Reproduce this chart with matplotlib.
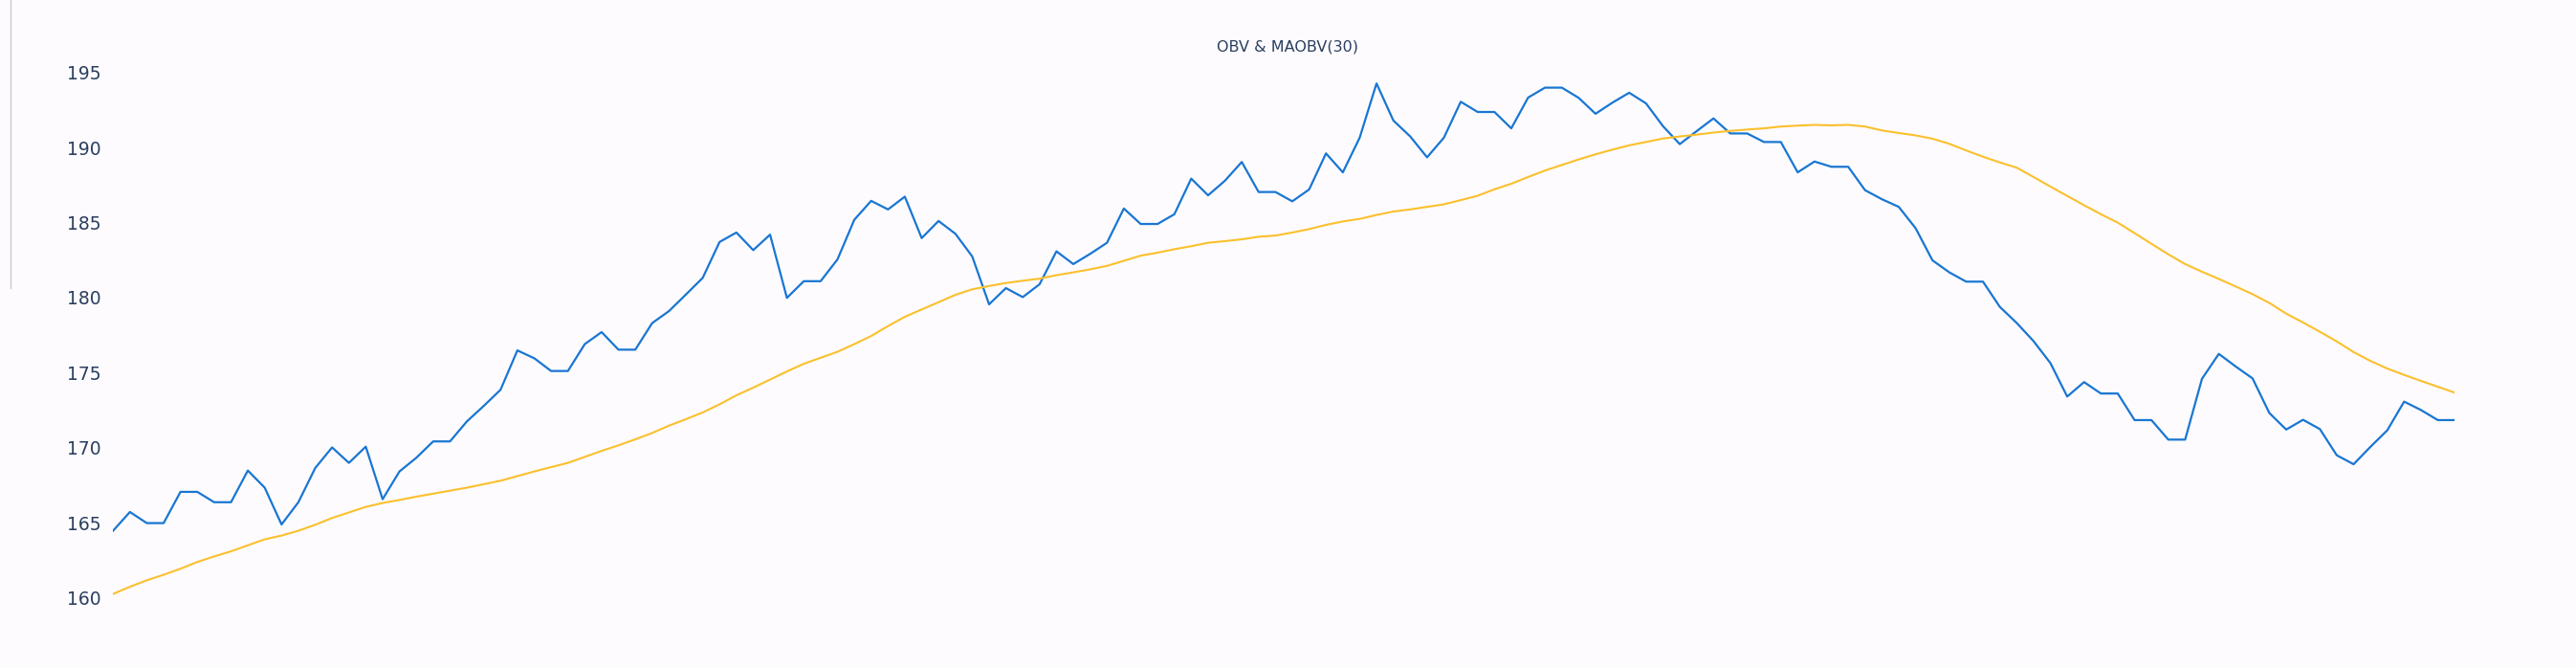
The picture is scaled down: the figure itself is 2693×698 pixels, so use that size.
import numpy as np
import matplotlib
matplotlib.use("Agg")
import matplotlib.pyplot as plt
from matplotlib.lines import Line2D

title = "OBV & MAOBV(30)"

obv = [164.47, 165.72, 164.98, 164.98, 167.06, 167.06, 166.37, 166.37, 168.48, 167.34,
       164.89, 166.37, 168.65, 170.02, 168.99, 170.07, 166.57, 168.42, 169.33, 170.42,
       170.42, 171.75, 172.78, 173.86, 176.48, 175.96, 175.11, 175.11, 176.90, 177.70,
       176.53, 176.53, 178.30, 179.10, 180.20, 181.31, 183.70, 184.33, 183.16, 184.19,
       179.98, 181.09, 181.09, 182.54, 185.18, 186.44, 185.87, 186.72, 183.96, 185.10,
       184.25, 182.74, 179.55, 180.63, 180.03, 180.89, 183.08, 182.23, 182.91, 183.65,
       185.93, 184.90, 184.90, 185.55, 187.92, 186.81, 187.78, 189.03, 187.03, 187.03,
       186.41, 187.20, 189.60, 188.34, 190.65, 194.26, 191.79, 190.73, 189.34, 190.65,
       193.04, 192.36, 192.36, 191.27, 193.32, 193.98, 193.98, 193.30, 192.24, 192.98,
       193.64, 192.93, 191.42, 190.22, 191.08, 191.93, 190.93, 190.93, 190.36, 190.36,
       188.34, 189.06, 188.71, 188.71, 187.15, 186.55, 186.04, 184.62, 182.48, 181.68,
       181.06, 181.06, 179.38, 178.31, 177.10, 175.64, 173.41, 174.37, 173.61, 173.61,
       171.84, 171.84, 170.54, 170.54, 174.59, 176.25, 175.41, 174.62, 172.31, 171.21,
       171.86, 171.24, 169.50, 168.90, 170.06, 171.16, 173.07, 172.51, 171.84, 171.84]

maobv = [160.26, 160.74, 161.17, 161.54, 161.94, 162.39, 162.76, 163.10, 163.50, 163.90,
         164.15, 164.47, 164.87, 165.32, 165.69, 166.06, 166.32, 166.52, 166.74, 166.94,
         167.14, 167.34, 167.57, 167.80, 168.11, 168.42, 168.71, 168.99, 169.39, 169.79,
         170.16, 170.56, 170.98, 171.47, 171.90, 172.35, 172.89, 173.49, 174.00, 174.54,
         175.08, 175.59, 175.99, 176.39, 176.90, 177.44, 178.10, 178.72, 179.21, 179.69,
         180.18, 180.55, 180.77, 180.97, 181.12, 181.26, 181.49, 181.68, 181.88, 182.11,
         182.45, 182.79, 182.99, 183.22, 183.42, 183.65, 183.76, 183.88, 184.05, 184.13,
         184.33, 184.56, 184.84, 185.07, 185.24, 185.50, 185.73, 185.87, 186.04, 186.21,
         186.49, 186.78, 187.21, 187.58, 188.03, 188.46, 188.83, 189.20, 189.54, 189.85,
         190.14, 190.36, 190.59, 190.73, 190.85, 190.99, 191.10, 191.19, 191.27, 191.39,
         191.45, 191.50, 191.47, 191.50, 191.39, 191.13, 190.96, 190.80, 190.58, 190.24,
         189.80, 189.38, 189.00, 188.65, 188.03, 187.39, 186.77, 186.15, 185.55, 184.99,
         184.29, 183.58, 182.88, 182.23, 181.72, 181.24, 180.74, 180.23, 179.64, 178.93,
         178.34, 177.72, 177.08, 176.37, 175.78, 175.27, 174.85, 174.45, 174.06, 173.67]

yticks = [160, 165, 170, 175, 180, 185, 190, 195]

bg = "#fdfbfe"
txt = "#2a3f5f"

fig = plt.figure(figsize=(26.93, 6.98), dpi=100, facecolor=bg)
ax = fig.add_axes([0.0439, 0.0825, 0.909, 0.8317], facecolor=bg)

x = np.arange(len(obv))
ax.plot(x, obv, color="#1976d2", lw=1.6)
ax.plot(x, maobv, color="#fbc02d", lw=1.5)

ax.set_xlim(0, len(obv) - 1)
ax.set_ylim(159, 196)
ax.set_yticks(yticks)
ax.set_xticks([])
ax.tick_params(axis="y", length=0, pad=9, labelsize=13.5, labelcolor=txt)
for s in ax.spines.values():
    s.set_visible(False)

fig.text(0.5, 0.93, title, ha="center", va="center", fontsize=11.5, color=txt)

# thin separator at far left
fig.add_artist(Line2D([11 / 2693, 11 / 2693], [1, 1 - 301 / 698],
                      transform=fig.transFigure, color="#cccccc", lw=1))

fig.savefig("out.png", dpi=100, facecolor=bg)
